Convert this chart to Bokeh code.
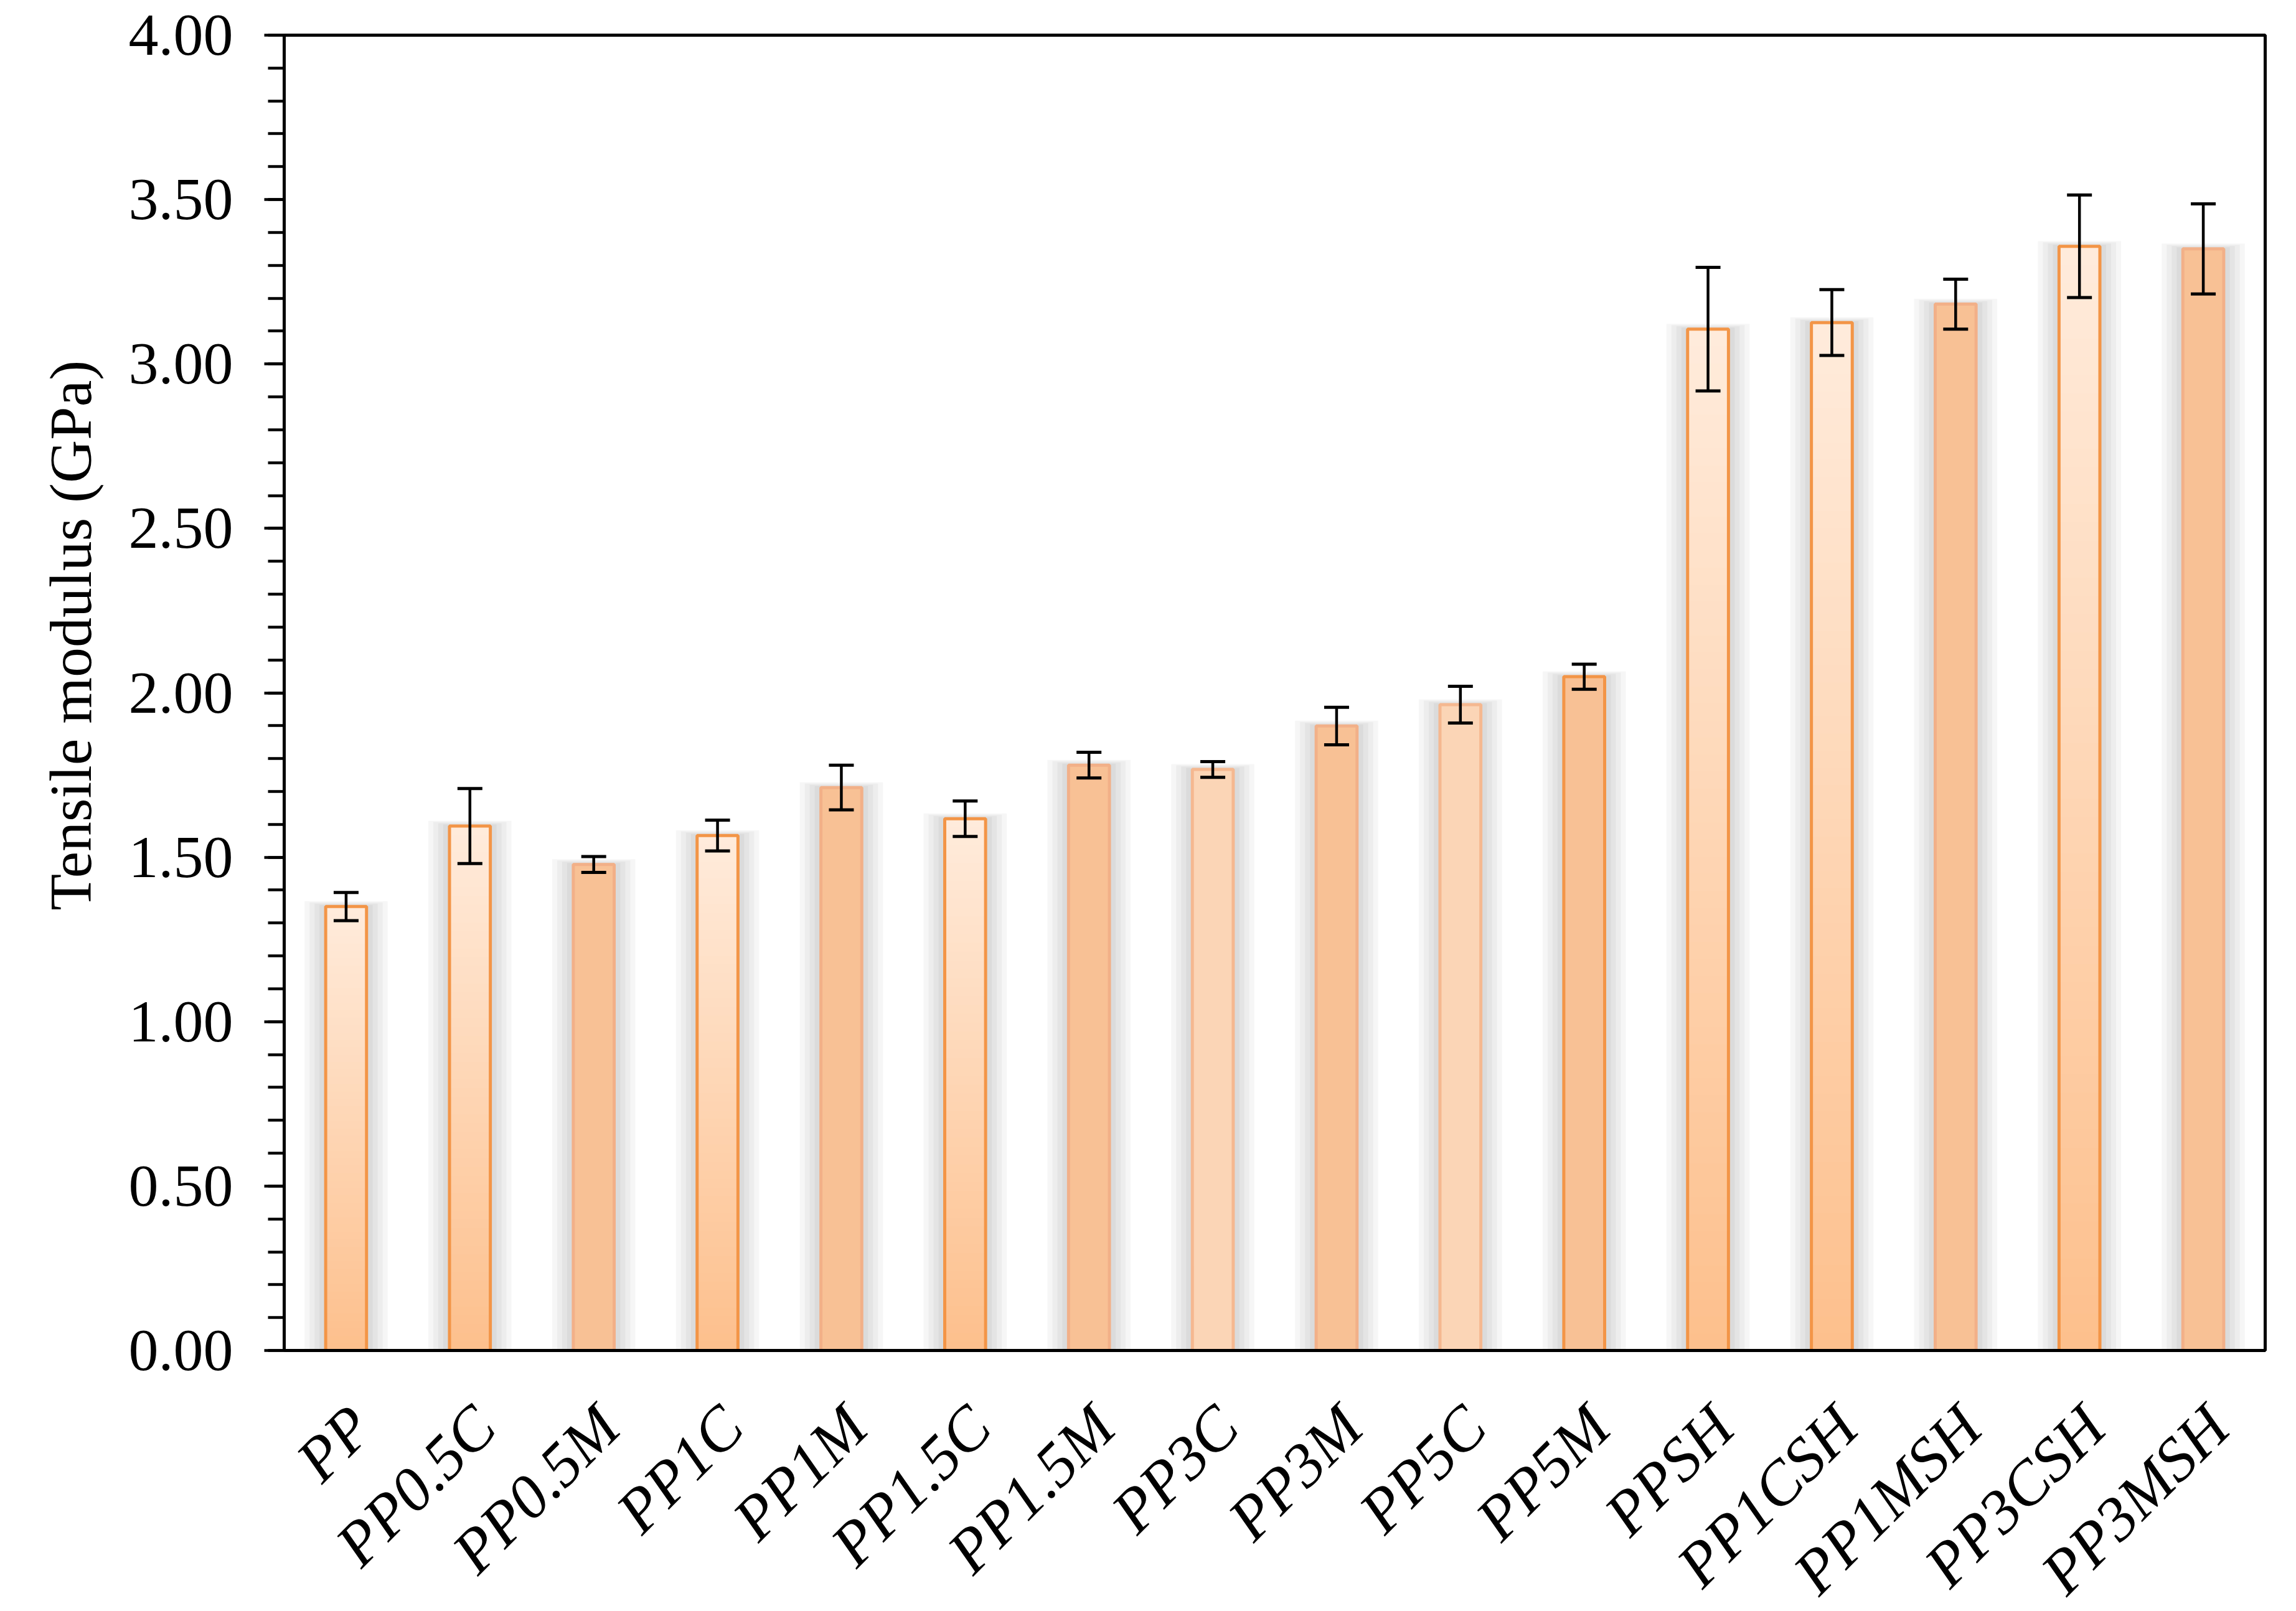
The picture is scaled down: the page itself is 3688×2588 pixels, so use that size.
import numpy as np
from math import pi
from bokeh.plotting import figure
from bokeh.models import (ColumnDataSource, Whisker, TeeHead, Title, FixedTicker,
                          PrintfTickFormatter, Range1d, CustomJSTickFormatter)
from bokeh.embed import file_html
from bokeh.resources import INLINE

# ---------------- data ----------------
categories = ["PP", "PP0.5C", "PP0.5M", "PP1C", "PP1M", "PP1.5C", "PP1.5M", "PP3C",
              "PP3M", "PP5C", "PP5M", "PPSH", "PP1CSH", "PP1MSH", "PP3CSH", "PP3MSH"]
modulus = [1.350, 1.595, 1.478, 1.566, 1.712, 1.617, 1.780, 1.767,
           1.899, 1.964, 2.049, 3.106, 3.126, 3.182, 3.358, 3.350]
error = [0.043, 0.114, 0.024, 0.047, 0.068, 0.054, 0.039, 0.024,
         0.057, 0.056, 0.038, 0.188, 0.100, 0.076, 0.156, 0.137]
y_ticks = [0.0, 0.5, 1.0, 1.5, 2.0, 2.5, 3.0, 3.5, 4.0]
y_minor = [round(0.1 * i, 1) for i in range(41)]
y_label = "Tensile modulus (GPa)"

# ---------------- styles ----------------
kinds = ["grad", "grad", "dark", "grad", "dark", "grad", "dark", "light",
         "dark", "light", "darkstrong", "grad", "grad", "dark", "grad", "dark"]
STRONG = "#F39547"
fill_of = {"dark": "#F8C195", "light": "#FBD5B6", "darkstrong": "#F8C195"}
line_of = {"dark": "#F2B088", "light": "#F5B890", "darkstrong": STRONG, "grad": STRONG}
GRAD_TOP = (255, 235, 219)
GRAD_BOT = (253, 192, 141)

BAR_W = 0.33
NCAT = len(categories)
PX_X = 3182 / NCAT      # px per category
PX_Y = 2113 / 4.0       # px per GPa
LABEL_SHIFT = 24 / PX_X  # rotated labels anchored a little right of bar centre

xs = [i + 0.5 for i in range(NCAT)]

p = figure(x_range=Range1d(0, NCAT), y_range=Range1d(0, 4),
           frame_width=3182, frame_height=2113,
           min_border_left=456, min_border_right=34, min_border_top=56, min_border_bottom=380,
           output_backend="svg", toolbar_location=None,
           background_fill_color="white", border_fill_color="white")
p.xgrid.visible = False
p.ygrid.visible = False
p.outline_line_color = "black"
p.outline_line_width = 5

# soft shadow around bars
for dpx in [34, 26, 18, 10]:
    p.vbar(x=xs, top=[v + dpx * 0.25 / PX_Y for v in modulus], bottom=0,
           width=BAR_W + 2 * dpx / PX_X, fill_color="black", fill_alpha=0.035, line_color=None)

# solid bars
sx = [x for x, k in zip(xs, kinds) if k != "grad"]
sv = [v for v, k in zip(modulus, kinds) if k != "grad"]
sk = [k for k in kinds if k != "grad"]
p.vbar(x=sx, top=sv, bottom=0, width=BAR_W,
       fill_color=[fill_of[k] for k in sk], line_color=None)

# gradient bars (stacked overlays, light on top -> darker at bottom)
gx = [x for x, k in zip(xs, kinds) if k == "grad"]
gv = [v for v, k in zip(modulus, kinds) if k == "grad"]
N = 60
for j in range(N):
    t = j / (N - 1)
    col = tuple(int(round(a + (b - a) * t)) for a, b in zip(GRAD_TOP, GRAD_BOT))
    hexc = "#%02x%02x%02x" % col
    frac = 1 - j / N
    p.vbar(x=gx, top=[v * frac for v in gv], bottom=0, width=BAR_W,
           fill_color=hexc, line_color=None)

# borders
p.vbar(x=xs, top=modulus, bottom=0, width=BAR_W, fill_color=None,
       line_color=[line_of[k] for k in kinds], line_width=5)

# error bars
src = ColumnDataSource(dict(x=xs,
                            upper=[v + e for v, e in zip(modulus, error)],
                            lower=[v - e for v, e in zip(modulus, error)]))
wh = Whisker(source=src, base="x", upper="upper", lower="lower", dimension="height",
             line_color="black", line_width=4.5, level="overlay",
             upper_head=TeeHead(size=40, line_color="black", line_width=5),
             lower_head=TeeHead(size=40, line_color="black", line_width=5))
p.add_layout(wh)

# y axis
ya = p.yaxis[0]
ya.ticker = FixedTicker(ticks=y_ticks, minor_ticks=y_minor)
ya.formatter = PrintfTickFormatter(format="%.2f")
ya.major_label_text_font = "Liberation Serif"
ya.major_label_text_font_size = "96px"
ya.major_label_text_color = "black"
ya.major_tick_out = 32
ya.major_tick_in = 0
ya.minor_tick_out = 26
ya.minor_tick_in = 0
ya.major_tick_line_width = 4.5
ya.minor_tick_line_width = 4.5
ya.axis_line_width = 5
ya.major_label_standoff = 50

# x axis (category names at each bar)
xa = p.xaxis[0]
xa.ticker = FixedTicker(ticks=[x + LABEL_SHIFT for x in xs], minor_ticks=[])
xa.formatter = CustomJSTickFormatter(args=dict(names=categories),
                                     code="return names[Math.floor(tick)];")
xa.major_tick_out = 0
xa.major_tick_in = 0
xa.minor_tick_line_color = None
xa.axis_line_width = 5
xa.major_label_orientation = pi / 4
xa.major_label_text_font = "Liberation Serif"
xa.major_label_text_font_style = "italic"
xa.major_label_text_font_size = "100px"
xa.major_label_text_color = "black"
xa.major_label_standoff = 106

# y axis title
p.add_layout(Title(text=y_label, align="left", offset=707, standoff=74,
                   text_font="Liberation Serif", text_font_style="normal",
                   text_font_size="96px", text_color="black"), "left")

open("out.html", "w").write(file_html(p, INLINE))
